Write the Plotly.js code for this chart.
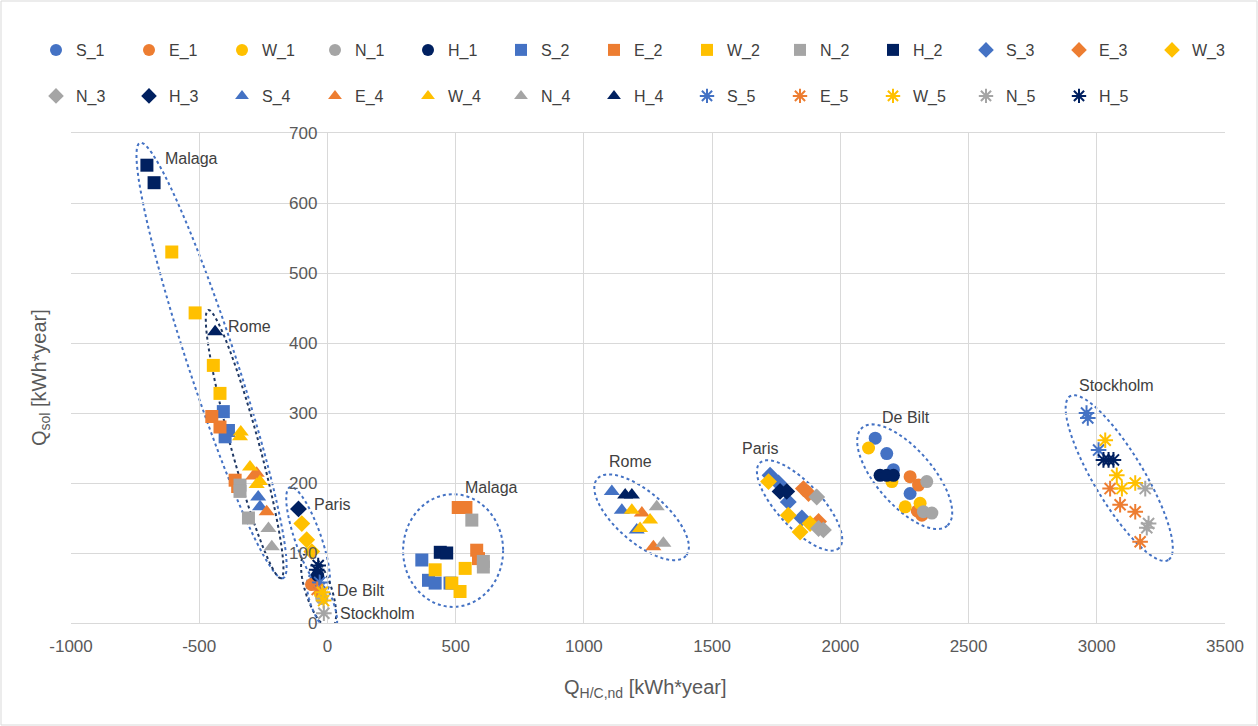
<!DOCTYPE html>
<html>
<head>
<meta charset="utf-8">
<script src="https://cdn.plot.ly/plotly-3.0.1.min.js"></script>
<style>
  html, body { margin: 0; padding: 0; background: #fff; }
  #chart { width: 1258px; height: 726px; }
</style>
</head>
<body>
<div id="chart"></div>
<script>
// ---- data ----
const seriesNames = ["S_1","E_1","W_1","N_1","H_1","S_2","E_2","W_2","N_2","H_2",
                     "S_3","E_3","W_3","N_3","H_3","S_4","E_4","W_4","N_4","H_4",
                     "S_5","E_5","W_5","N_5","H_5"];

// group 1 (circles)
const S_1x = [-45, 2136, 2181, 2207, 2272];        const S_1y = [62, 264, 242, 219, 185];
const E_1x = [-62, 2272, 2305, 2300, 2318];        const E_1y = [55, 209, 197, 160, 154];
const W_1x = [-28, 2110, 2201, 2253, 2311];        const W_1y = [42, 250, 202, 166, 171];
const N_1x = [-22, 2337, 2324, 2357];              const N_1y = [35, 202, 159, 157];
const H_1x = [-38, 2155, 2181, 2207];              const H_1y = [68, 211, 211, 211];
// group 2 (squares)
const S_2x = [-406, -386, -399, 368, 394, 420, 478];           const S_2y = [302, 275, 266, 90, 61, 57, 57];
const E_2x = [-451, -419, -360, -350, 510, 540, 582, 589];     const E_2y = [295, 280, 204, 195, 165, 165, 104, 92];
const W_2x = [-607, -516, -445, -419, 420, 537, 485, 517];     const W_2y = [530, 443, 368, 328, 76, 78, 57, 45];
const N_2x = [-341, -341, -308, 563, 608, 608];                const N_2y = [197, 188, 150, 147, 88, 80];
const H_2x = [-704, -676, 440, 465];                           const H_2y = [654, 629, 101, 100];
// group 3 (diamonds)
const S_3x = [1726, 1759, 1797, 1850];                         const S_3y = [211, 200, 173, 150];
const E_3x = [1856, 1876, 1915];                               const E_3y = [192, 185, 145];
const W_3x = [-100, -81, -61, 1720, 1797, 1843, 1882];         const W_3y = [142, 119, 102, 202, 154, 130, 142];
const N_3x = [1908, 1915, 1934];                               const N_3y = [180, 135, 133];
const H_3x = [-113, 1765, 1791];                               const H_3y = [163, 188, 188];
// group 4 (triangles)
const S_4x = [-270, -263, 1109, 1148, 1206];                   const S_4y = [180, 166, 188, 161, 133];
const E_4x = [-276, -289, -237, 1226, 1271];                   const E_4y = [214, 210, 159, 157, 109];
const W_4x = [-341, -338, -302, -263, -276, 1187, 1258, 1219]; const W_4y = [266, 273, 223, 202, 198, 161, 147, 135];
const N_4x = [-230, -217, 1284, 1310];                         const N_4y = [135, 109, 166, 114];
const H_4x = [-438, 1161, 1187];                               const H_4y = [416, 183, 183];
// group 5 (stars)
const S_5x = [-30, 2960, 2965, 3007];                          const S_5y = [58, 300, 293, 247];
const E_5x = [-40, 3052, 3091, 3150, 3169];                    const E_5y = [48, 192, 169, 159, 116];
const W_5x = [-20, -15, 3033, 3078, 3098, 3150];               const W_5y = [44, 32, 261, 211, 192, 200];
const N_5x = [-14, 3189, 3202, 3195];                          const N_5y = [14, 192, 142, 136];
const H_5x = [-42, -36, 3026, 3046, 3065];                     const H_5y = [76, 82, 233, 233, 233];

const xTickVals = [-1000, -500, 0, 500, 1000, 1500, 2000, 2500, 3000, 3500];
const xTickText = ["-1000", "-500", "0", "500", "1000", "1500", "2000", "2500", "3000", "3500"];
const yTickVals = [0, 100, 200, 300, 400, 500, 600, 700];

// city labels
const labelText = ["Malaga","Rome","Paris","De Bilt","Stockholm","Malaga","Rome","Paris","De Bilt","Stockholm"];
const labelX = [-641, -396, -60, 30, 41, 529, 1091, 1609, 2156, 2923];
const labelY = [664, 424, 169, 47, 13, 194, 231, 250, 293, 339];

// ---- styling ----
const X = {S_1:S_1x,E_1:E_1x,W_1:W_1x,N_1:N_1x,H_1:H_1x,S_2:S_2x,E_2:E_2x,W_2:W_2x,N_2:N_2x,H_2:H_2x,
           S_3:S_3x,E_3:E_3x,W_3:W_3x,N_3:N_3x,H_3:H_3x,S_4:S_4x,E_4:E_4x,W_4:W_4x,N_4:N_4x,H_4:H_4x,
           S_5:S_5x,E_5:E_5x,W_5:W_5x,N_5:N_5x,H_5:H_5x};
const Y = {S_1:S_1y,E_1:E_1y,W_1:W_1y,N_1:N_1y,H_1:H_1y,S_2:S_2y,E_2:E_2y,W_2:W_2y,N_2:N_2y,H_2:H_2y,
           S_3:S_3y,E_3:E_3y,W_3:W_3y,N_3:N_3y,H_3:H_3y,S_4:S_4y,E_4:E_4y,W_4:W_4y,N_4:N_4y,H_4:H_4y,
           S_5:S_5y,E_5:E_5y,W_5:W_5y,N_5:N_5y,H_5:H_5y};
const colorOf = {S:"#4472C4", E:"#ED7D31", W:"#FFC000", N:"#A5A5A5", H:"#002060"};
const symbolOf = {"1":"circle","2":"square","3":"diamond","4":"triangle-up","5":"asterisk-open"};
const sizeOf = {"1":13,"2":13,"3":13,"4":14,"5":13};

const traces = seriesNames.map((name, i) => {
  const c = colorOf[name[0]];
  const g = name[2];
  const star = g === "5";
  return {
    type: "scatter", mode: "markers", name: name,
    x: X[name], y: Y[name],
    cliponaxis: false,
    legend: i < 13 ? "legend" : "legend2",
    marker: {
      symbol: symbolOf[g], size: sizeOf[g], color: c,
      line: star ? {color: c, width: 2} : {width: 0}
    },
    hoverinfo: "x+y+name"
  };
});

// ---- ellipse outlines (decoration) ----
const x0r = -1000, x1r = 3500, y0r = 0, y1r = 700;
const plotW = 1154, plotH = 490;
const PX = plotW / (x1r - x0r), PY = plotH / (y1r - y0r);
function ellipsePath(xa, ya, xb, yb, hw) {
  const ax = xa * PX, ay = -ya * PY, bx = xb * PX, by = -yb * PY;
  const cx = (ax + bx) / 2, cy = (ay + by) / 2;
  const L = Math.hypot(bx - ax, by - ay) / 2;
  const ux = (bx - ax) / (2 * L), uy = (by - ay) / (2 * L);
  const vx = -uy, vy = ux;
  let d = "";
  const N = 90;
  for (let k = 0; k <= N; k++) {
    const t = 2 * Math.PI * k / N;
    const px = cx + L * Math.cos(t) * ux + hw * Math.sin(t) * vx;
    const py = cy + L * Math.cos(t) * uy + hw * Math.sin(t) * vy;
    d += (k === 0 ? "M" : "L") + (px / PX).toFixed(2) + "," + (-py / PY).toFixed(2);
  }
  return d + "Z";
}
const BLUE = "#4472C4", NAVY = "#1F3864";
const ellipses = [
  [-731, 686, -173, 64, 24, BLUE],
  [-465, 447, -181, 64, 14, NAVY],
  [-146, 194, -5, 47, 13, BLUE],
  [-83, 100, 14, -7, 13, NAVY],
  [-64, 69, 22, -13, 11, BLUE],
  [1052, 206, 1398, 96, 25, BLUE],
  [1687, 229, 1995, 107, 22, BLUE],
  [2085, 279, 2417, 139, 28, BLUE],
  [2896, 324, 3279, 90, 25, BLUE]
];
const shapes = ellipses.map(e => ({
  type: "path", xref: "x", yref: "y", layer: "below",
  path: ellipsePath(e[0], e[1], e[2], e[3], e[4]),
  line: {color: e[5], width: 2, dash: "dot"}
}));
shapes.push({
  type: "circle", xref: "x", yref: "y", layer: "below",
  x0: 295, x1: 685, y0: 23, y1: 184,
  line: {color: BLUE, width: 2, dash: "dot"}
});
// outer chart frame
shapes.push({
  type: "rect", xref: "paper", yref: "paper",
  x0: (1 - 71) / plotW, x1: (1257 - 71) / plotW,
  y0: (623 - 725) / plotH, y1: (623 - 1) / plotH,
  line: {color: "#D9D9D9", width: 1}
});

const FONT = "Liberation Sans, Arial, sans-serif";
const annotations = labelText.map((t, i) => ({
  x: labelX[i], y: labelY[i], xref: "x", yref: "y",
  text: t, showarrow: false, xanchor: "left", yanchor: "middle",
  font: {family: FONT, size: 16, color: "#404040"}
}));
annotations.push({
  xref: "paper", yref: "paper", x: (40 - 71) / plotW, y: 0.5,
  text: "Q<sub>sol</sub> [kWh*year]", textangle: -90, showarrow: false,
  xanchor: "center", yanchor: "middle",
  font: {family: FONT, size: 20, color: "#595959"}
});
annotations.push({
  xref: "paper", yref: "paper", x: (645 - 71) / plotW, y: (623 - 688) / plotH,
  text: "Q<sub>H/C,nd</sub> [kWh*year]", showarrow: false,
  xanchor: "center", yanchor: "middle",
  font: {family: FONT, size: 20, color: "#595959"}
});

const legendCommon = {
  orientation: "h", xanchor: "left", yanchor: "middle",
  font: {family: FONT, size: 16, color: "#404040"},
  itemsizing: "constant", itemwidth: 30,
  entrywidth: 48, entrywidthmode: "pixels",
  bgcolor: "rgba(0,0,0,0)", traceorder: "normal"
};

const layout = {
  width: 1258, height: 726,
  margin: {l: 71, r: 33, t: 133, b: 103, autoexpand: false},
  paper_bgcolor: "#ffffff", plot_bgcolor: "#ffffff",
  font: {family: FONT, color: "#595959"},
  showlegend: true,
  legend: Object.assign({}, legendCommon, {x: (36 - 71) / plotW, y: (623 - 50) / plotH}),
  legend2: Object.assign({}, legendCommon, {x: (36 - 71) / plotW, y: (623 - 96) / plotH}),
  xaxis: {
    range: [x0r, x1r], tickmode: "array", tickvals: xTickVals, ticktext: xTickText,
    showgrid: true, gridcolor: "#D9D9D9", gridwidth: 1, zeroline: false,
    showline: true, linecolor: "#D9D9D9", linewidth: 1, mirror: true,
    ticks: "", ticklabelstandoff: 8,
    tickfont: {family: FONT, size: 17, color: "#595959"}
  },
  yaxis: {
    range: [y0r, y1r], tickmode: "array", tickvals: yTickVals,
    anchor: "free", position: (0 - x0r) / (x1r - x0r),
    showgrid: true, gridcolor: "#D9D9D9", gridwidth: 1, zeroline: false,
    showline: false, ticks: "", ticklabelstandoff: 10,
    tickfont: {family: FONT, size: 17, color: "#595959"}
  },
  shapes: shapes,
  annotations: annotations
};

Plotly.newPlot("chart", traces, layout, {displayModeBar: false, staticPlot: true});
</script>
</body>
</html>
